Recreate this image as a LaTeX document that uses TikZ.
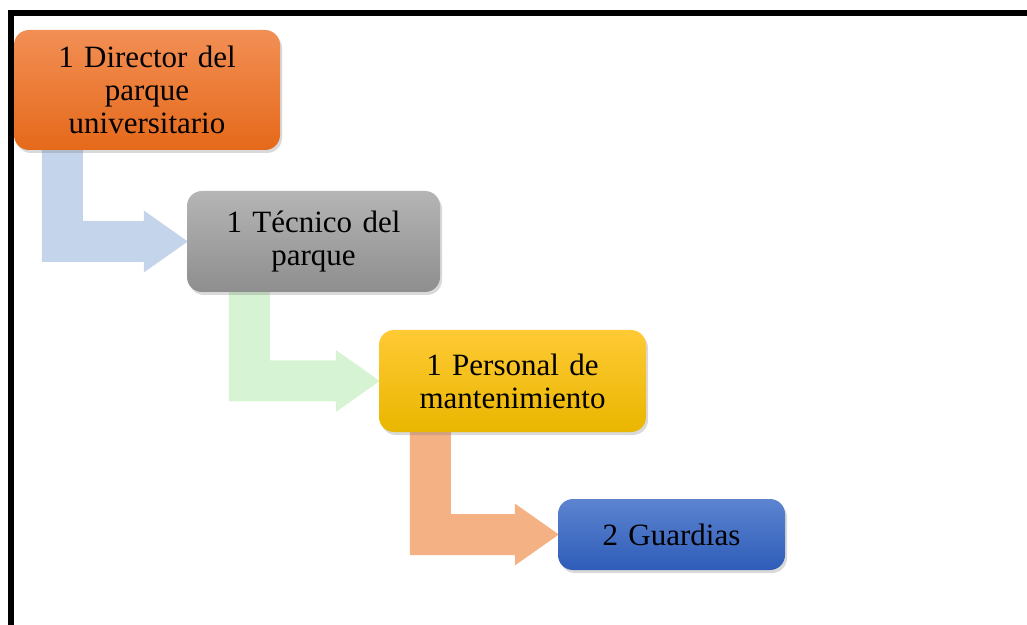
\documentclass[tikz,border=0pt]{standalone}
\usepackage{fontspec}
\setmainfont{Liberation Serif}
\usepackage{tikz}
\usetikzlibrary{calc,shadows}
\pgfdeclarelayer{background}
\pgfsetlayers{background,main}

\definecolor{naranjaarriba}{HTML}{F28F55}
\definecolor{naranjaabajo}{HTML}{E5691A}
\definecolor{grisarriba}{HTML}{B5B5B5}
\definecolor{grisabajo}{HTML}{8E8E8E}
\definecolor{amarilloarriba}{HTML}{FFCA35}
\definecolor{amarilloabajo}{HTML}{E9B600}
\definecolor{azularriba}{HTML}{5C84D0}
\definecolor{azulabajo}{HTML}{2E5CB8}
\definecolor{flechaazul}{HTML}{C4D5EB}
\definecolor{flechaverde}{HTML}{D6F3D4}
\definecolor{flechanaranja}{HTML}{F4B183}

\begin{document}
\begin{tikzpicture}[x=1pt,y=1pt,
   cargo/.style={rectangle,rounded corners=15pt,align=center,
      font=\fontsize{31}{33}\selectfont,
      drop shadow={shadow xshift=2pt,shadow yshift=-3pt,opacity=0.3}}]

  \useasboundingbox (0,0) rectangle (1027,624);
  \draw[line width=6pt] (10.5,-10) -- (10.5,611) -- (1040,611);

  \node[cargo,top color=naranjaarriba,bottom color=naranjaabajo,
        minimum width=266,minimum height=120,text width=250](dir) at (147,534)
        {1 Director del\\ parque\\ universitario};
  \node[cargo,top color=grisarriba,bottom color=grisabajo,
        minimum width=253,minimum height=101,text width=240](tec) at (313.5,382.5)
        {1 Técnico del\\ parque};
  \node[cargo,top color=amarilloarriba,bottom color=amarilloabajo,
        minimum width=267,minimum height=102,text width=250](per) at (512.5,243)
        {1 Personal de\\ mantenimiento};
  \node[cargo,top color=azularriba,bottom color=azulabajo,
        minimum width=227,minimum height=71,text width=210](gua) at (671.5,89.5)
        {2 Guardias};

  \begin{pgfonlayer}{background}
  \foreach \from/\to/\dx/\col in {dir/tec/28/flechaazul,tec/per/42/flechaverde,per/gua/31/flechanaranja}
    \fill[\col] let \p1=($(\from.south west)+(\dx,0)$), \p2=(\to.west) in
      (\x1,\y1) -- (\x1+41pt,\y1) -- (\x1+41pt,\y2+20.5pt) -- (\x2-43pt,\y2+20.5pt)
      -- (\x2-43pt,\y2+31pt) -- (\x2+1pt,\y2) -- (\x2-43pt,\y2-31pt)
      -- (\x2-43pt,\y2-20.5pt) -- (\x1,\y2-20.5pt) -- cycle;
  \end{pgfonlayer}
\end{tikzpicture}
\end{document}
